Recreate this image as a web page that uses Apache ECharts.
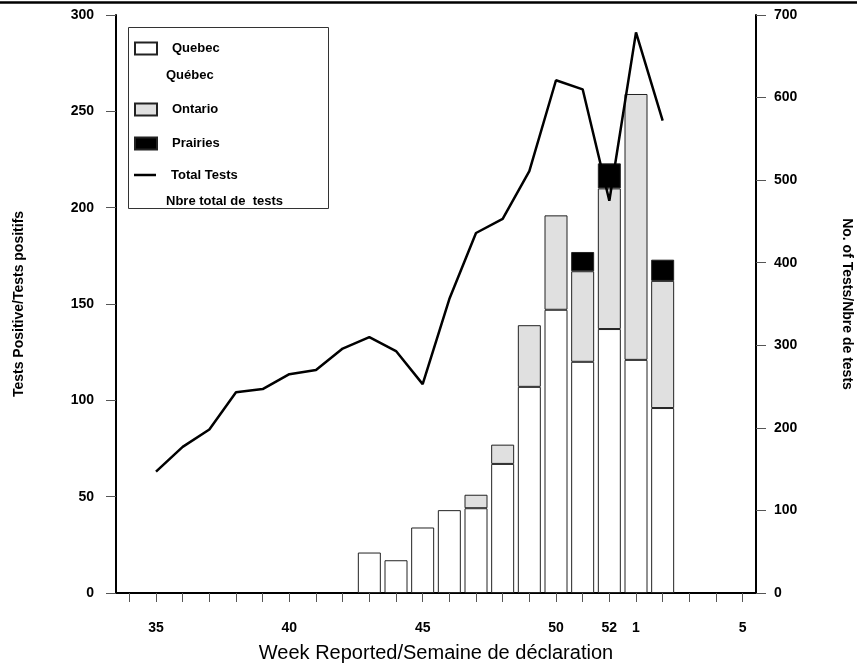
<!DOCTYPE html>
<html>
<head>
<meta charset="utf-8">
<script src="https://cdn.jsdelivr.net/npm/echarts@6/dist/echarts.min.js"></script>
<style>
html,body{margin:0;padding:0;background:#fff;}
#chart{width:857px;height:667px;}
</style>
</head>
<body>
<div id="chart"></div>
<script>
var weeks = ['34','35','36','37','38','39','40','41','42','43','44','45','46','47','48','49','50','51','52','1','2','3','4','5'];
var shownWeekLabels = ['35','40','45','50','52','1','5'];
var quebec   = [null,null,null,null,null,null,null,null,null,21,17,34,43,44,67,107,147,120,137,121,96,null,null,null];
var ontario  = [null,null,null,null,null,null,null,null,null,null,null,null,null,7,10,32,49,47,73,138,66,null,null,null];
var prairies = [null,null,null,null,null,null,null,null,null,null,null,null,null,null,null,null,null,10,13,null,11,null,null,null];
var totalTests = [null,147,177,198,243,247,265,270,296,310,293,253,356,436,453,511,621,610,475,679,572,null,null,null];
var leftTicks = [0,50,100,150,200,250,300];
var rightTicks = [0,100,200,300,400,500,600,700];

var FONT = 'Liberation Sans, Arial, sans-serif';
var chart = echarts.init(document.getElementById('chart'), null, {renderer:'canvas'});

var legendBase = {
  orient:'horizontal', left:134, padding:0, itemWidth:22, itemHeight:12, icon:'rect',
  textStyle:{fontFamily:FONT, fontWeight:'bold', fontSize:13, color:'#000', padding:[0,0,0,10]},
  selectedMode:false
};
function leg(name, top, extra){ return Object.assign({}, legendBase, {data:[name], top:top}, extra || {}); }

var option = {
  backgroundColor:'#fff',
  animation:false,
  grid:{left:116, right:101, top:15, bottom:74, outerBoundsMode:'none', containLabel:false},
  legend:[
    leg('Quebec',41.5),
    leg('Ontario',102.5),
    leg('Prairies',136.5),
    leg('Total Tests',168.5,{itemHeight:2.5, itemStyle:{color:'#000', borderWidth:0}})
  ],
  xAxis:{
    type:'category', data:weeks, boundaryGap:true,
    axisLine:{lineStyle:{color:'#000', width:2}},
    axisTick:{show:true, alignWithLabel:true, interval:0, length:9, lineStyle:{color:'#555', width:1}},
    axisLabel:{interval:0, margin:28, fontFamily:FONT, fontWeight:'bold', fontSize:14, color:'#000',
      formatter:function(v){ return shownWeekLabels.indexOf(v)>=0 ? v : ''; }},
    name:'Week Reported/Semaine de déclaration', nameLocation:'middle', nameGap:50,
    nameTextStyle:{fontFamily:FONT, fontSize:20, color:'#000'},
    splitLine:{show:false}
  },
  yAxis:[{
    type:'value', min:leftTicks[0], max:leftTicks[leftTicks.length-1], interval:50, position:'left',
    axisLine:{show:true, lineStyle:{color:'#000', width:2}},
    axisTick:{show:true, length:10, lineStyle:{color:'#555', width:1}},
    axisLabel:{margin:22, fontFamily:FONT, fontWeight:'bold', fontSize:14, color:'#000'},
    splitLine:{show:false},
    name:'Tests Positive/Tests positifs', nameLocation:'middle', nameGap:90, nameRotate:90,
    nameTextStyle:{fontFamily:FONT, fontWeight:'bold', fontSize:14, color:'#000'}
  },{
    type:'value', min:rightTicks[0], max:rightTicks[rightTicks.length-1], interval:100, position:'right',
    axisLine:{show:true, lineStyle:{color:'#000', width:2}},
    axisTick:{show:true, length:10, lineStyle:{color:'#555', width:1}},
    axisLabel:{margin:18, fontFamily:FONT, fontWeight:'bold', fontSize:14, color:'#000'},
    splitLine:{show:false},
    name:'No. of Tests/Nbre de tests', nameLocation:'middle', nameGap:84, nameRotate:-90,
    nameTextStyle:{fontFamily:FONT, fontWeight:'bold', fontSize:14, color:'#000'}
  }],
  series:[
    {name:'Quebec', type:'bar', stack:'pos', data:quebec, barWidth:23,
      itemStyle:{color:'#fff', borderColor:'#222', borderWidth:1}},
    {name:'Ontario', type:'bar', stack:'pos', data:ontario, barWidth:23,
      itemStyle:{color:'#e0e0e0', borderColor:'#222', borderWidth:1}},
    {name:'Prairies', type:'bar', stack:'pos', data:prairies, barWidth:23,
      itemStyle:{color:'#000', borderColor:'#222', borderWidth:1}},
    {name:'Total Tests', type:'line', yAxisIndex:1, data:totalTests, symbol:'none', showSymbol:false,
      lineStyle:{color:'#000', width:2.5}, itemStyle:{color:'#000'}, z:5}
  ],
  graphic:[
    {type:'line', z:-1, shape:{x1:0, y1:2.5, x2:857, y2:2.5}, style:{stroke:'#000', lineWidth:2.5}},
    {type:'rect', z:0, shape:{x:128.5, y:27.5, width:200, height:181}, style:{fill:'#fff', stroke:'#333', lineWidth:1}},
    {type:'text', z:1, left:166, top:69, style:{text:'Québec', font:'bold 13px Liberation Sans, Arial, sans-serif', fill:'#000'}},
    {type:'text', z:1, left:166, top:195, style:{text:'Nbre total de  tests', font:'bold 13px Liberation Sans, Arial, sans-serif', fill:'#000'}}
  ]
};
chart.setOption(option);
</script>
</body>
</html>
